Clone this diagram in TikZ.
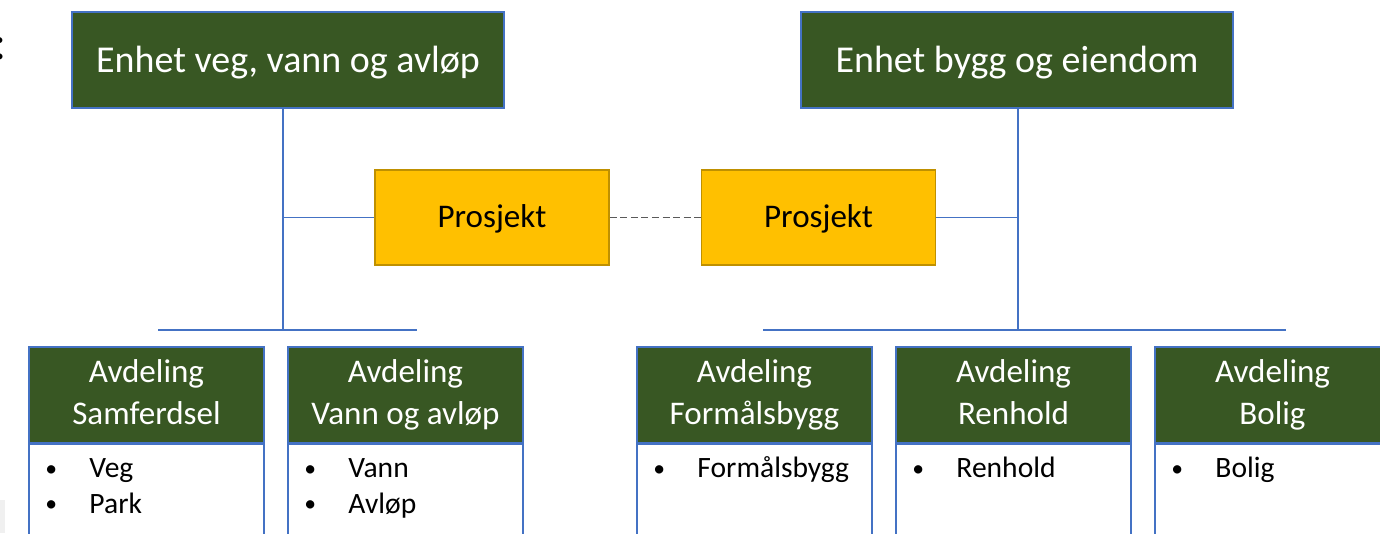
\documentclass[tikz,border=0pt]{standalone}
\usepackage{fontspec}
\setmainfont{Carlito}
\usepackage{graphicx}
\usetikzlibrary{positioning}
\definecolor{mork}{RGB}{56,87,35}
\definecolor{gull}{RGB}{255,192,0}
\definecolor{gullkant}{RGB}{191,144,0}
\definecolor{linje}{RGB}{68,114,196}
\definecolor{stipla}{RGB}{90,90,90}
\newcommand{\pkt}{\raisebox{0.05em}{\scalebox{0.8}{\textbullet}}}
\newcommand{\punkter}[1]{\begin{tabular}{@{}p{0.44cm}@{}l@{}}#1\end{tabular}}
\newcommand{\tolinjer}[2]{\begin{tabular}{@{}c@{}}#1\\#2\end{tabular}}

\begin{document}
\begin{tikzpicture}[
            x=0.01cm, y=-0.01cm,
            node distance=0.24cm,
            enhet/.style={draw=linje, fill=mork, text=white, minimum width=4.32cm, minimum height=0.96cm, text height=0.27cm, text depth=0.03cm, font=\fontsize{10.8}{13}\selectfont},
            prosjekt/.style={draw=gullkant, fill=gull, minimum width=2.34cm, minimum height=0.95cm, text height=0.23cm, text depth=0.04cm, font=\fontsize{9.4}{11}\selectfont},
            avd/.style={draw=linje, fill=mork, text=white, minimum width=2.35cm, minimum height=0.96cm, inner ysep=0pt, font=\fontsize{9.4}{12}\selectfont},
            kropp/.style={draw=linje, fill=white, minimum width=2.35cm, minimum height=1.2cm},
            liste/.style={inner sep=0pt, font=\fontsize{8.4}{10.2}\selectfont},
            strek/.style={draw=linje, line width=0.45pt}
        ]
            \clip (0,0) rectangle (1380,533);
            \fill[gray!12] (0,500) rectangle (5,533);
            \node[font=\fontsize{14}{16}\selectfont] (kolon) at (0,49) {:};

            \node[enhet] (vva) at (288,60) {Enhet veg, vann og avløp};
            \node[enhet] (bye) at (1017,60) {Enhet bygg og eiendom};
            \node[prosjekt] (prl) at (492,217.5) {Prosjekt};
            \node[prosjekt] (prr) at (818.5,217.5) {Prosjekt};

            \node[avd] (samf) at (146.5,395) {\tolinjer{Avdeling}{Samferdsel}};
            \node[avd] (vao) at (405.5,395) {\tolinjer{Avdeling}{Vann og avløp}};
            \node[avd] (form) at (754.5,395) {\tolinjer{Avdeling}{Formålsbygg}};
            \node[avd] (renh) at (1013.5,395) {\tolinjer{Avdeling}{Renhold}};
            \node[avd] (bol) at (1272.5,395) {\tolinjer{Avdeling}{Bolig}};

            \node[kropp, below=0pt of samf] (samfk) {};
            \node[kropp, below=0pt of vao] (vaok) {};
            \node[kropp, below=0pt of form] (formk) {};
            \node[kropp, below=0pt of renh] (renhk) {};
            \node[kropp, below=0pt of bol] (bolk) {};

            \node[liste, below right=0.08cm and 0.165cm of samfk.north west] (samfl) {\punkter{\pkt & Veg\\ \pkt & Park}};
            \node[liste, below right=0.08cm and 0.165cm of vaok.north west] (vaol) {\punkter{\pkt & Vann\\ \pkt & Avløp}};
            \node[liste, below right=0.08cm and 0.165cm of formk.north west] (forml) {\punkter{\pkt & Formålsbygg}};
            \node[liste, below right=0.08cm and 0.165cm of renhk.north west] (renhl) {\punkter{\pkt & Renhold}};
            \node[liste, below right=0.08cm and 0.165cm of bolk.north west] (boll) {\punkter{\pkt & Bolig}};

            % venstre enhet
            \coordinate (vvaned) at ([xshift=-0.05cm]vva.south);
            \coordinate (vl1) at (158,330);
            \coordinate (vl2) at (417,330);
            \draw[strek] (vvaned) -- (vvaned |- vl1);
            \draw[strek] (vl1) -- (vl2);
            \draw[strek] (vvaned |- prl.west) -- (prl.west);

            % hoyre enhet
            \coordinate (byened) at ([xshift=0.01cm]bye.south);
            \coordinate (vr1) at (763,330);
            \coordinate (vr2) at (1286,330);
            \draw[strek] (byened) -- (byened |- vr1);
            \draw[strek] (vr1) -- (vr2);
            \draw[strek] (prr.east) -- (byened |- prr.east);

            \draw[draw=stipla, dash pattern=on 2pt off 1pt] (prl.east) -- (prr.west);
        \end{tikzpicture}
\end{document}
